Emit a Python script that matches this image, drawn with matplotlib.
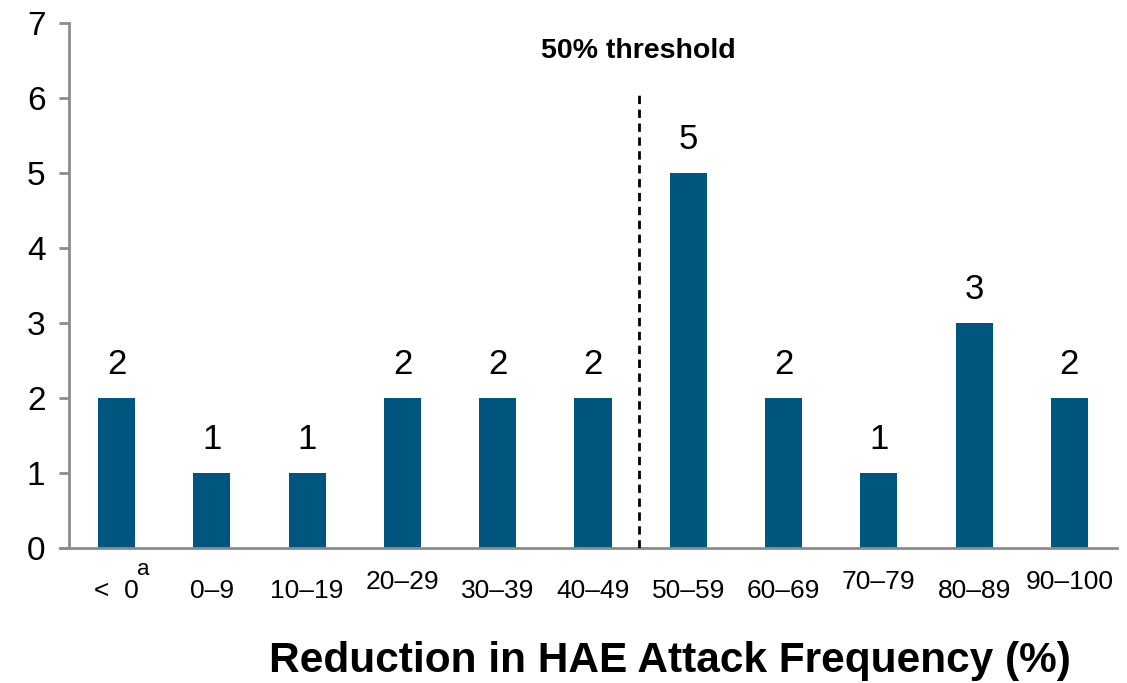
import numpy as np
import matplotlib
matplotlib.use("Agg")
import matplotlib.pyplot as plt

plt.rcParams['font.family'] = ['Liberation Sans', 'DejaVu Sans']

categories = ["<  0", "0–9", "10–19", "20–29", "30–39", "40–49",
              "50–59", "60–69", "70–79", "80–89", "90–100"]
counts = [2, 1, 1, 2, 2, 2, 5, 2, 1, 3, 2]
# labels that sit a little higher than the rest
raised = [False, False, False, True, False, False, False, False, True, False, True]

bar_color = "#00567e"
axis_grey = "#8c8c8c"

fig = plt.figure(figsize=(11.27, 6.83), dpi=100)
ax = fig.add_axes([69 / 1127, 1 - 548 / 683, 1048 / 1127, 525 / 683])

x = np.arange(len(categories))
ax.bar(x, counts, width=0.39, color=bar_color, zorder=2)
ax.set_xlim(-0.5, len(categories) - 0.5)
ax.set_ylim(0, 7)

for xi, c in zip(x, counts):
    ax.annotate(str(c), (xi, c), xytext=(0, 12), textcoords="offset points",
                ha="center", va="bottom", fontsize=25)

# 50% threshold marker
ax.plot([5.48, 5.48], [0, 6.08], ls=(0, (3, 2)), color="black", lw=2, zorder=3)
ax.text(5.48, 6.62, "50% threshold", ha="center", va="center",
        fontsize=20.5, fontweight="bold")

ax.set_xticks(x)
ax.set_xticklabels([])
ax.tick_params(axis="x", length=0)
trans = ax.get_xaxis_transform()
for xi, lab, up in zip(x, categories, raised):
    dy = -16 if up else -22
    ax.annotate(lab, (xi, 0), xycoords=trans, xytext=(0, dy),
                textcoords="offset points", ha="center", va="top", fontsize=19)
ax.annotate("a", (0, 0), xycoords=trans, xytext=(15, -8),
            textcoords="offset points", ha="left", va="top", fontsize=16)

ax.set_yticks(range(0, 8))
ax.tick_params(axis="y", length=7, width=2, color=axis_grey, labelsize=24, pad=10)

for side in ["top", "right"]:
    ax.spines[side].set_visible(False)
for side in ["left", "bottom"]:
    ax.spines[side].set_color(axis_grey)
    ax.spines[side].set_linewidth(2)
ax.spines["bottom"].set_bounds(-0.5 - 9 / 95.3, len(categories) - 0.5)
ax.spines["bottom"].set_clip_on(False)

fig.text(670 / 1127, 1 - 661 / 683, "Reduction in HAE Attack Frequency (%)",
         ha="center", va="center", fontsize=30.5, fontweight="bold")

fig.savefig("out.png", dpi=100)
